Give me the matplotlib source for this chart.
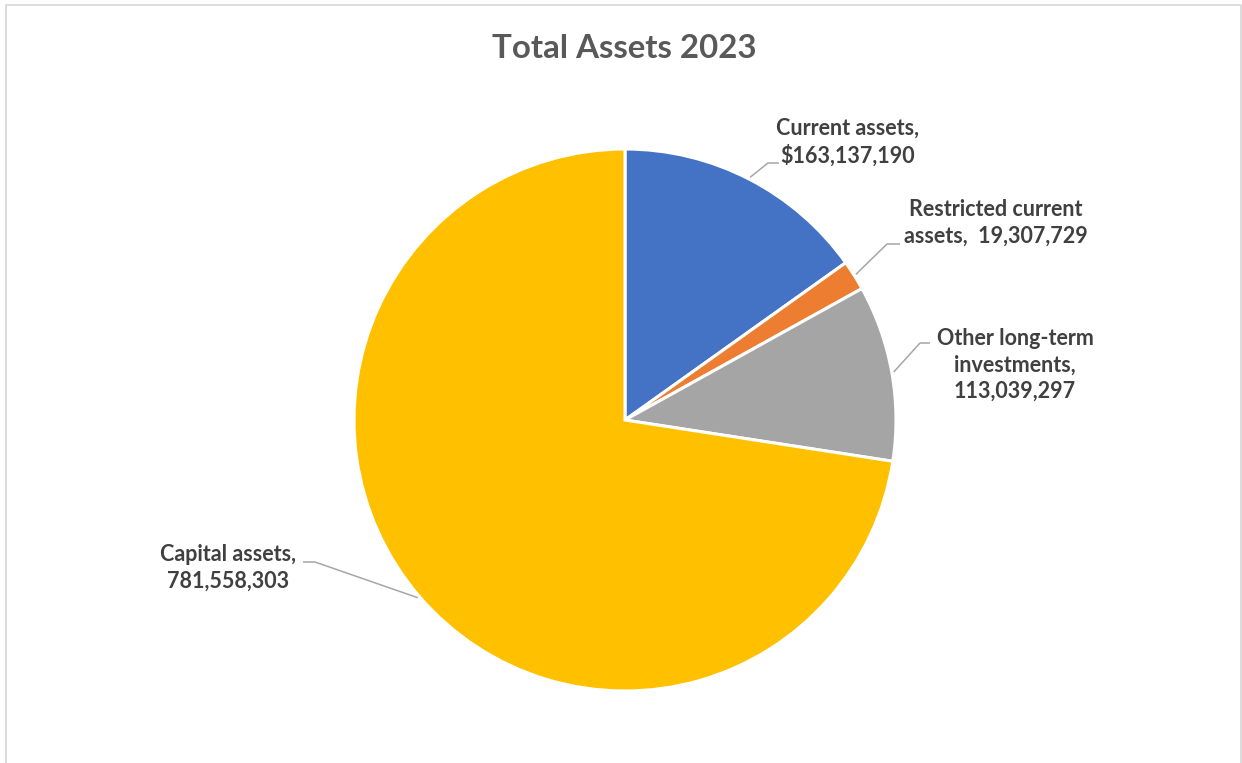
import numpy as np
import matplotlib
matplotlib.use('Agg')
import matplotlib.pyplot as plt

# Asset categories and 2023 balances
categories = ['Current assets', 'Restricted current assets', 'Other long-term investments', 'Capital assets']
values = [163137190, 19307729, 113039297, 781558303]
label_texts = [
    'Current assets,\n$163,137,190',
    'Restricted current\nassets,  19,307,729',
    'Other long-term\ninvestments,\n113,039,297',
    'Capital assets,\n781,558,303',
]
colors = ['#4472C4', '#ED7D31', '#A5A5A5', '#FFC000']

W, H = 1242, 763
plt.rcParams['font.family'] = ['Lato', 'DejaVu Sans']

fig = plt.figure(figsize=(W / 100, H / 100), dpi=100)
ax = fig.add_axes([0, 0, 1, 1])

# work in pixel units, y measured from the top
def py(y):
    return H - y

cx, cy, r = 625, 420, 271
wedges, _ = ax.pie(values, colors=colors, startangle=90, counterclock=False,
                   center=(cx, py(cy)), radius=r,
                   wedgeprops=dict(edgecolor='white', linewidth=2.2))
ax.set_xlim(0, W)
ax.set_ylim(0, H)
ax.set_aspect('equal')
ax.axis('off')

# label block centre, elbow of the leader, end of the short horizontal stub
label_pos = [(848, 142), (996, 223), (1015, 365), (228, 568)]
elbows = [(768, 163), (887, 244), (920, 343), (315, 562)]
stubs = [(779, 163), (900, 244), (930, 343), (303, 562)]

for w, txt, (lx, ly), (ex, ey), (sx, sy) in zip(wedges, label_texts, label_pos, elbows, stubs):
    mid = np.deg2rad((w.theta1 + w.theta2) / 2)
    ax_x = cx + (r + 2) * np.cos(mid)
    ax_y = py(cy) + (r + 2) * np.sin(mid)
    ax.plot([ax_x, ex, sx], [ax_y, py(ey), py(sy)], color='#A6A6A6', lw=1.1,
            solid_capstyle='butt', zorder=1)
    ax.text(lx, py(ly), txt, ha='center', va='center', fontsize=15.5,
            fontweight='bold', color='#404040', linespacing=1.3)

ax.text(624, py(48), 'Total Assets 2023', ha='center', va='center',
        fontsize=23.8, fontweight='bold', color='#595959')

# chart area border (bottom edge falls outside the image)
ax.plot([6, 6, 1240.5, 1240.5], [py(H + 5), py(5), py(5), py(H + 5)],
        color='#D9D9D9', lw=1.3, clip_on=False)

fig.savefig('out.png', dpi=100)
